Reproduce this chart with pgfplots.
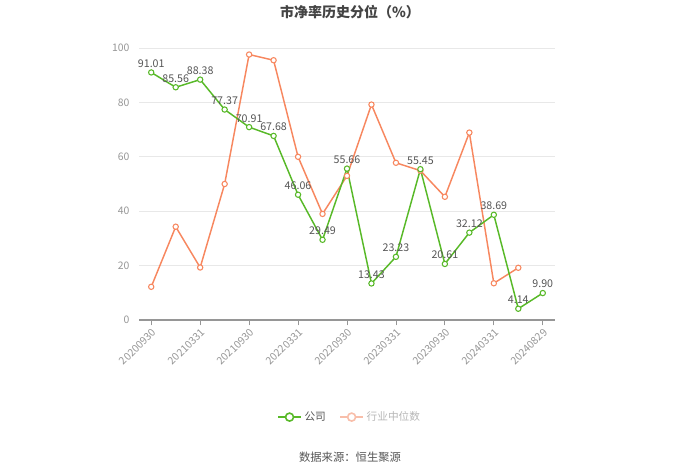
\documentclass[border=0pt]{standalone}
\usepackage{fontspec}
\setmainfont{Noto Sans CJK SC}
\usepackage{pgfplots}
\pgfplotsset{compat=1.18}
\definecolor{cgreen}{RGB}{88,185,40}
\definecolor{corange}{RGB}{247,135,95}
\definecolor{cpale}{RGB}{248,190,170}
\definecolor{tickgray}{RGB}{150,150,150}
\definecolor{gridgray}{RGB}{232,232,232}
\definecolor{labgray}{RGB}{85,85,85}
\begin{document}
\begin{tikzpicture}[x=0.75pt,y=0.75pt]
\path[use as bounding box] (0,0) rectangle (700,474);
\node[font=\bfseries\fontsize{10.5}{12}\selectfont, text=labgray!80!black] at (350,462) {市净率历史分位（\%）};
\node[font=\fontsize{8.5}{10}\selectfont, text=labgray] at (350,17) {数据来源：恒生聚源};
\begin{axis}[
  at={(104.25pt,115.5pt)}, anchor=south west,
  scale only axis, width=312pt, height=204pt,
  xmin=-0.5, xmax=16.5, ymin=0, ymax=100,
  xtick={0,2,4,6,8,10,12,14,16},
  xticklabels={20200930,20210331,20210930,20220331,20220930,20230331,20230930,20240331,20240829},
  ytick={0,20,40,60,80,100},
  axis x line*=bottom, axis y line*=left,
  y axis line style={draw=none},
  x axis line style={draw=tickgray, line width=0.8pt},
  ytick style={draw=none},
  xtick style={draw=tickgray, line width=0.6pt},
  tick align=outside, major tick length=4pt,
  ymajorgrids, grid style={gridgray, line width=0.6pt},
  /pgf/number format/assume math mode=true,
  tick label style={font=\fontsize{7.8}{9}\selectfont, text=tickgray},
  xticklabel style={rotate=45, anchor=north east, inner sep=1pt},
  yticklabel style={inner sep=2pt, xshift=-1pt},
  legend style={at={(0.507,-0.357)}, anchor=center, draw=none, fill=none, legend columns=2,
    font=\fontsize{8}{10}\selectfont, text=labgray,
    /tikz/every even column/.append style={column sep=8pt}},
  legend cell align=left,
]
\addplot[corange, line width=1.1pt, mark=*, mark size=2pt, mark options={fill=white, draw=corange, line width=0.8pt}, forget plot] coordinates {
(0,12.2) (1,34.3) (2,19.3) (3,50.0) (4,97.6) (5,95.5) (6,60.0) (7,39.0)
(8,53.0) (9,79.2) (10,57.8) (11,54.9) (12,45.3) (13,68.9) (14,13.5) (15,19.2)
};
\addplot[cgreen, line width=1.1pt, mark=*, mark size=2pt, mark options={fill=white, draw=cgreen, line width=0.8pt}, forget plot,
  nodes near coords, point meta=y,
  every node near coord/.append style={font=\fontsize{8}{10}\selectfont, text=labgray, yshift=0pt,
    /pgf/number format/.cd, fixed, fixed zerofill, precision=2, assume math mode=true}] coordinates {
(0,91.01) (1,85.56) (2,88.38) (3,77.37) (4,70.91) (5,67.68) (6,46.06) (7,29.49)
(8,55.66) (9,13.43) (10,23.23) (11,55.45) (12,20.61) (13,32.12) (14,38.69) (15,4.14) (16,9.90)
};
\addlegendimage{cgreen, line width=1.5pt, mark=*, mark size=3pt, mark options={fill=white, draw=cgreen, line width=1.2pt}}
\addlegendentry{公司}
\addlegendimage{cpale, line width=1.5pt, mark=*, mark size=3pt, mark options={fill=white, draw=cpale, line width=1.2pt}}
\addlegendentry{\textcolor{tickgray!70}{行业中位数}}
\end{axis}
\end{tikzpicture}
\end{document}
